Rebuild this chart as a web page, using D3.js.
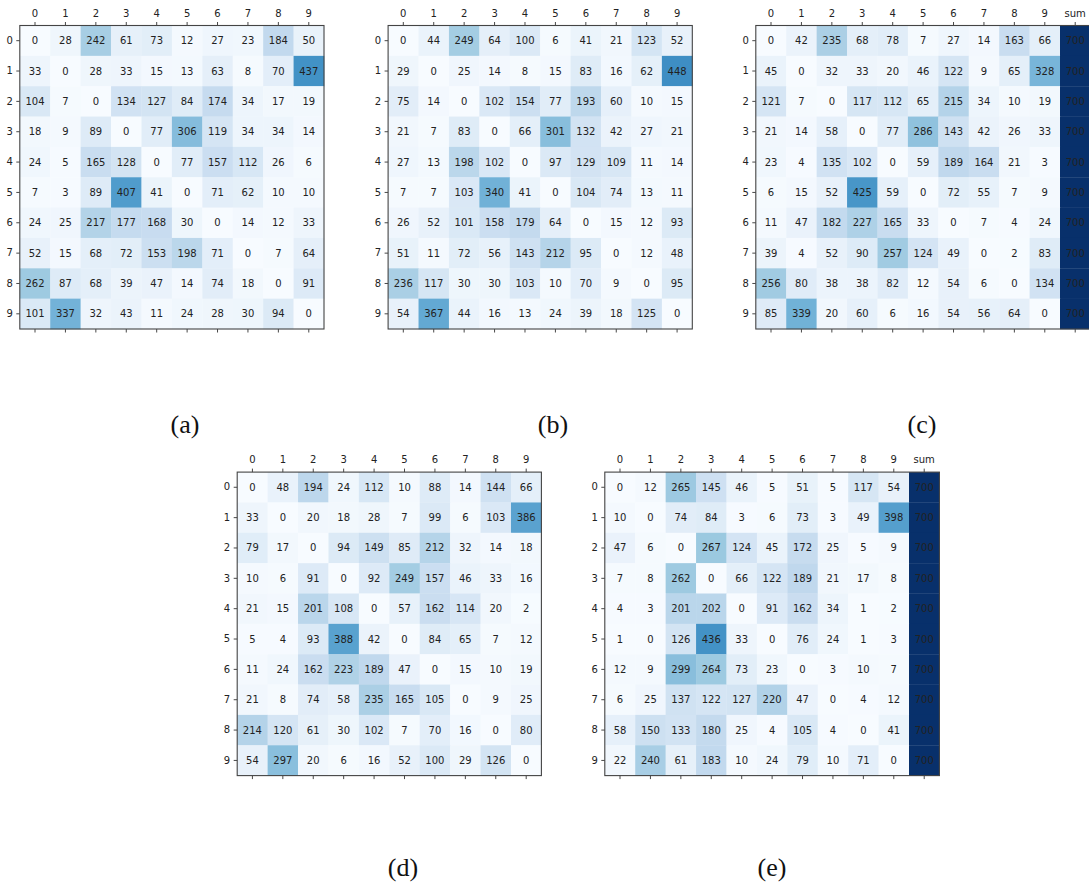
<!DOCTYPE html>
<html>
<head>
<meta charset="utf-8">
<script src="https://cdn.jsdelivr.net/npm/d3@7"></script>
<style>
  body { margin: 0; background: #fff; }
  svg { display: block; }
  .tick text { font-family: "DejaVu Sans", sans-serif; font-size: 10px; fill: #222; }
  .cell-label { font-family: "DejaVu Sans", sans-serif; font-size: 10px; fill: #222; }
  .sub { font-family: "Liberation Serif", serif; font-size: 26px; fill: #111; }
</style>
</head>
<body>
<svg id="fig" width="1089" height="884"></svg>
<script>
// row/column class labels
var classes = ["0", "1", "2", "3", "4", "5", "6", "7", "8", "9"];

var matA = [
    [0, 28, 242, 61, 73, 12, 27, 23, 184, 50],
    [33, 0, 28, 33, 15, 13, 63, 8, 70, 437],
    [104, 7, 0, 134, 127, 84, 174, 34, 17, 19],
    [18, 9, 89, 0, 77, 306, 119, 34, 34, 14],
    [24, 5, 165, 128, 0, 77, 157, 112, 26, 6],
    [7, 3, 89, 407, 41, 0, 71, 62, 10, 10],
    [24, 25, 217, 177, 168, 30, 0, 14, 12, 33],
    [52, 15, 68, 72, 153, 198, 71, 0, 7, 64],
    [262, 87, 68, 39, 47, 14, 74, 18, 0, 91],
    [101, 337, 32, 43, 11, 24, 28, 30, 94, 0]
];

var matB = [
    [0, 44, 249, 64, 100, 6, 41, 21, 123, 52],
    [29, 0, 25, 14, 8, 15, 83, 16, 62, 448],
    [75, 14, 0, 102, 154, 77, 193, 60, 10, 15],
    [21, 7, 83, 0, 66, 301, 132, 42, 27, 21],
    [27, 13, 198, 102, 0, 97, 129, 109, 11, 14],
    [7, 7, 103, 340, 41, 0, 104, 74, 13, 11],
    [26, 52, 101, 158, 179, 64, 0, 15, 12, 93],
    [51, 11, 72, 56, 143, 212, 95, 0, 12, 48],
    [236, 117, 30, 30, 103, 10, 70, 9, 0, 95],
    [54, 367, 44, 16, 13, 24, 39, 18, 125, 0]
];

var matC = [
    [0, 42, 235, 68, 78, 7, 27, 14, 163, 66],
    [45, 0, 32, 33, 20, 46, 122, 9, 65, 328],
    [121, 7, 0, 117, 112, 65, 215, 34, 10, 19],
    [21, 14, 58, 0, 77, 286, 143, 42, 26, 33],
    [23, 4, 135, 102, 0, 59, 189, 164, 21, 3],
    [6, 15, 52, 425, 59, 0, 72, 55, 7, 9],
    [11, 47, 182, 227, 165, 33, 0, 7, 4, 24],
    [39, 4, 52, 90, 257, 124, 49, 0, 2, 83],
    [256, 80, 38, 38, 82, 12, 54, 6, 0, 134],
    [85, 339, 20, 60, 6, 16, 54, 56, 64, 0]
];
var sumsC = [700, 700, 700, 700, 700, 700, 700, 700, 700, 700];

var matD = [
    [0, 48, 194, 24, 112, 10, 88, 14, 144, 66],
    [33, 0, 20, 18, 28, 7, 99, 6, 103, 386],
    [79, 17, 0, 94, 149, 85, 212, 32, 14, 18],
    [10, 6, 91, 0, 92, 249, 157, 46, 33, 16],
    [21, 15, 201, 108, 0, 57, 162, 114, 20, 2],
    [5, 4, 93, 388, 42, 0, 84, 65, 7, 12],
    [11, 24, 162, 223, 189, 47, 0, 15, 10, 19],
    [21, 8, 74, 58, 235, 165, 105, 0, 9, 25],
    [214, 120, 61, 30, 102, 7, 70, 16, 0, 80],
    [54, 297, 20, 6, 16, 52, 100, 29, 126, 0]
];

var matE = [
    [0, 12, 265, 145, 46, 5, 51, 5, 117, 54],
    [10, 0, 74, 84, 3, 6, 73, 3, 49, 398],
    [47, 6, 0, 267, 124, 45, 172, 25, 5, 9],
    [7, 8, 262, 0, 66, 122, 189, 21, 17, 8],
    [4, 3, 201, 202, 0, 91, 162, 34, 1, 2],
    [1, 0, 126, 436, 33, 0, 76, 24, 1, 3],
    [12, 9, 299, 264, 73, 23, 0, 3, 10, 7],
    [6, 25, 137, 122, 127, 220, 47, 0, 4, 12],
    [58, 150, 133, 180, 25, 4, 105, 4, 0, 41],
    [22, 240, 61, 183, 10, 24, 79, 10, 71, 0]
];
var sumsE = [700, 700, 700, 700, 700, 700, 700, 700, 700, 700];

var subLabels = ["(a)", "(b)", "(c)", "(d)", "(e)"];

// colour: Blues, 0..700 shared across panels
var vmax = 700;
var blues = d3.schemeBlues[9];
var color = d3.scaleLinear()
    .domain(d3.range(9).map(i => i * vmax / 8))
    .range(blues)
    .clamp(true);

var svg = d3.select("#fig");
var cw = 30.42, ch = 30.35;

// panel layout
var panels = [
    { mat: matA, sums: null, x: 19.8, y: 25.5, lx: 185, ly: 433 },
    { mat: matB, sums: null, x: 388.1, y: 25.5, lx: 553, ly: 433 },
    { mat: matC, sums: sumsC, x: 755.8, y: 25.5, lx: 922, ly: 433 },
    { mat: matD, sums: null, x: 237.2, y: 472.1, lx: 403, ly: 876 },
    { mat: matE, sums: sumsE, x: 604.8, y: 472.1, lx: 772, ly: 876 }
];

panels.forEach(function (p, pi) {
    var cols = p.sums ? classes.concat(["sum"]) : classes;
    var cells = [];
    p.mat.forEach(function (row, r) {
        row.forEach(function (v, c) {
            cells.push({ r: classes[r], c: classes[c], v: v });
        });
        if (p.sums) cells.push({ r: classes[r], c: "sum", v: p.sums[r] });
    });

    var x = d3.scaleBand().domain(cols).range([0, cols.length * cw]);
    var y = d3.scaleBand().domain(classes).range([0, classes.length * ch]);
    var W = x.range()[1], H = y.range()[1];

    var g = svg.append("g").attr("transform", "translate(" + p.x + "," + p.y + ")");

    g.selectAll("rect.cell")
        .data(cells)
        .join("rect")
        .attr("class", "cell")
        .attr("x", d => x(d.c))
        .attr("y", d => y(d.r))
        .attr("width", x.bandwidth() + 0.3)
        .attr("height", y.bandwidth() + 0.3)
        .attr("fill", d => color(d.v));

    g.selectAll("text.cell-label")
        .data(cells)
        .join("text")
        .attr("class", "cell-label")
        .attr("x", d => x(d.c) + x.bandwidth() / 2)
        .attr("y", d => y(d.r) + y.bandwidth() / 2)
        .attr("text-anchor", "middle")
        .attr("dy", "0.35em")
        .text(d => d.v);

    // axes: labels on top and left, bare ticks at the bottom
    g.append("g")
        .call(d3.axisTop(x).tickSize(3.5).tickPadding(5.2))
        .call(a => a.select(".domain").remove());
    g.append("g")
        .attr("transform", "translate(0," + H + ")")
        .call(d3.axisBottom(x).tickSize(3.5).tickFormat(""))
        .call(a => a.select(".domain").remove());
    g.append("g")
        .call(d3.axisLeft(y).tickSize(3.5).tickPadding(3.5))
        .call(a => a.select(".domain").remove());

    g.selectAll(".tick line").attr("stroke", "#333").attr("stroke-width", 0.9);

    g.append("rect")
        .attr("width", W)
        .attr("height", H)
        .attr("fill", "none")
        .attr("stroke", "#444")
        .attr("stroke-width", 1.1);

    svg.append("text")
        .attr("class", "sub")
        .attr("x", p.lx)
        .attr("y", p.ly)
        .attr("text-anchor", "middle")
        .text(subLabels[pi]);
});
</script>
</body>
</html>
